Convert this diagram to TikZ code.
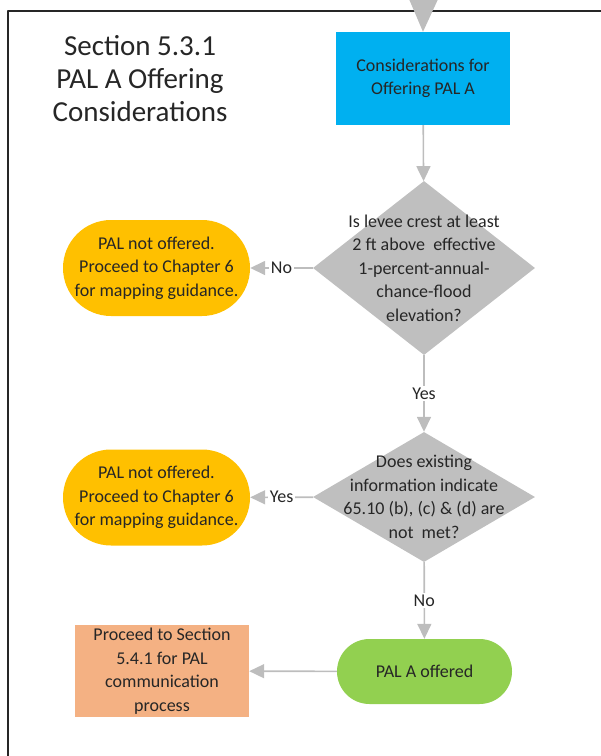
\documentclass[tikz,border=0pt]{standalone}
\usepackage{fontspec}
\setmainfont{Carlito}
\usetikzlibrary{shapes.geometric,arrows.meta}

\definecolor{boxblue}{HTML}{00B0F0}
\definecolor{askgray}{HTML}{BFBFBF}
\definecolor{linegray}{HTML}{BDBDBD}
\definecolor{stopamber}{HTML}{FFC000}
\definecolor{goodgreen}{HTML}{92D050}
\definecolor{nextsalmon}{HTML}{F4B183}
\definecolor{ink}{HTML}{262626}

\tikzset{
  flowline/.style={draw=linegray, line width=1.6pt, -{Triangle[length=15pt,width=14pt]}},
  flowlabel/.style={fill=white, inner sep=1.5pt, text=ink},
  procbox/.style={rectangle, inner sep=0pt, align=center, text=ink},
  decision/.style={diamond, fill=askgray, inner sep=0pt},
  asktext/.style={align=center, inner sep=0pt, text=ink},
  endoval/.style={rectangle, inner sep=0pt, align=center, text=ink},
}

\begin{document}
\begin{tikzpicture}[x=1pt, y=-1pt, line join=round, font=\fontsize{18}{23.5}\selectfont]

  %% ════ frame ════
  \draw[line width=2pt, draw=black!85] (8,760) -- (8,11) -- (605,11);

  %% ════ heading ════
  \node[align=center, text=ink, inner sep=0pt, font=\fontsize{29}{33}\selectfont] (title) at (140,79) {Section 5.3.1\\PAL A Offering\\Considerations};

  %% ════ boxes ════
  \node[procbox, fill=boxblue, minimum width=174pt, minimum height=93pt] (start) at (423,78.5) {Considerations for\\Offering PAL A};

  \node[decision, minimum width=222pt, minimum height=174pt] (levee) at (424,268) {};
  \node[asktext] at (levee.center) {Is levee crest at least\\2 ft above\ \ effective\\1-percent-annual-\\chance-flood\\elevation?};

  \node[endoval, fill=stopamber, minimum width=187pt, minimum height=96pt, rounded corners=48pt] (stopA) at (156.5,268) {PAL not offered.\\Proceed to Chapter 6\\for mapping guidance.};

  \node[decision, minimum width=222pt, minimum height=130pt] (rules) at (424,497) {};
  \node[asktext] at (rules.center) {Does existing\\information indicate\\65.10 (b), (c) \& (d) are\\not\ \ met?};

  \node[endoval, fill=stopamber, minimum width=187pt, minimum height=96pt, rounded corners=48pt] (stopB) at (156.5,497.5) {PAL not offered.\\Proceed to Chapter 6\\for mapping guidance.};

  \node[endoval, fill=goodgreen, minimum width=175pt, minimum height=65pt, rounded corners=32.5pt] (offered) at (424.5,671.5) {PAL A offered};

  \node[procbox, fill=nextsalmon, minimum width=174pt, minimum height=92pt] (comms) at (162,671) {Proceed to Section\\5.4.1 for PAL\\communication\\process};

  %% ════ connectors ════
  \coordinate (entry) at (424,-40);
  \draw[draw=linegray, line width=1.6pt, -{Triangle[length=32pt,width=28pt]}] (entry) -- (start.north);
  \draw[flowline] (start) -- (levee);
  \draw[flowline] (levee) -- node[flowlabel] {No} (stopA);
  \draw[flowline] (levee) -- node[flowlabel] {Yes} (rules);
  \draw[flowline] (rules) -- node[flowlabel] {Yes} (stopB);
  \draw[flowline] (rules) -- node[flowlabel] {No} (offered);
  \draw[flowline] (offered) -- (comms);

  \pgfresetboundingbox
  \path[use as bounding box] (0,0) rectangle (601,756);
\end{tikzpicture}
\end{document}
